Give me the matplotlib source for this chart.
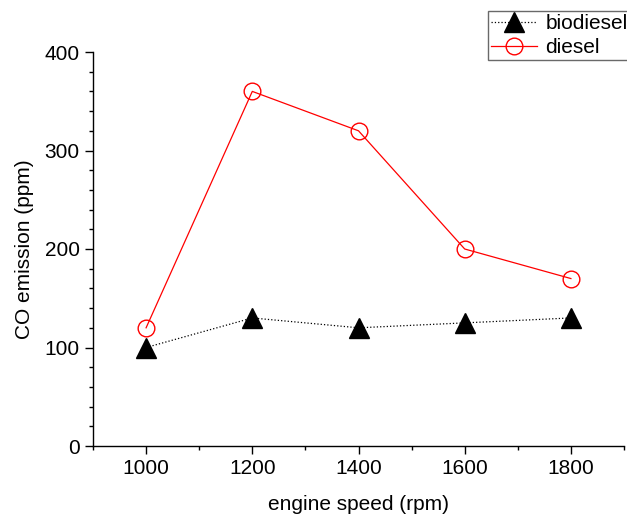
import matplotlib
matplotlib.use("Agg")
import matplotlib.pyplot as plt
from matplotlib.ticker import MultipleLocator

speed = [1000, 1200, 1400, 1600, 1800]
biodiesel = [100, 130, 120, 125, 130]
diesel = [120, 360, 320, 200, 170]

plt.rcParams['font.family'] = ['Liberation Sans', 'DejaVu Sans']
FS = 15

fig = plt.figure(figsize=(6.27, 5.15), dpi=100)
ax = fig.add_axes([93/627, 1-446/515, (624-93)/627, (446-52)/515])

ax.plot(speed, biodiesel, color='black', linestyle=':', linewidth=0.9,
        marker='^', markersize=14.5, markerfacecolor='black', markeredgecolor='black',
        label='biodiesel')
ax.plot(speed, diesel, color='red', linestyle='-', linewidth=0.9,
        marker='o', markersize=12, markerfacecolor='none', markeredgecolor='red',
        markeredgewidth=1.0, label='diesel')

ax.set_xlim(900, 1900)
ax.set_ylim(0, 400)
ax.xaxis.set_major_locator(MultipleLocator(200))
ax.xaxis.set_minor_locator(MultipleLocator(100))
ax.yaxis.set_major_locator(MultipleLocator(100))
ax.yaxis.set_minor_locator(MultipleLocator(20))
ax.tick_params(which='major', direction='out', length=6, width=1, labelsize=FS)
ax.tick_params(which='minor', direction='out', length=3, width=1)
ax.spines['top'].set_visible(False)
ax.spines['right'].set_visible(False)
for s in ['left', 'bottom']:
    ax.spines[s].set_linewidth(1)

ax.set_xlabel('engine speed (rpm)', fontsize=FS, labelpad=12)
ax.set_ylabel('CO emission (ppm)', fontsize=FS, labelpad=8)

leg = fig.legend(loc='upper left', bbox_to_anchor=(488/627, 1-11/515),
                 fontsize=FS, frameon=True, fancybox=False, shadow=False,
                 borderpad=0.15, handlelength=2.2, handletextpad=0.4,
                 labelspacing=0.25, borderaxespad=0)
leg.get_frame().set_edgecolor('#444444')
leg.get_frame().set_linewidth(1)

fig.savefig('out.png', dpi=100)
